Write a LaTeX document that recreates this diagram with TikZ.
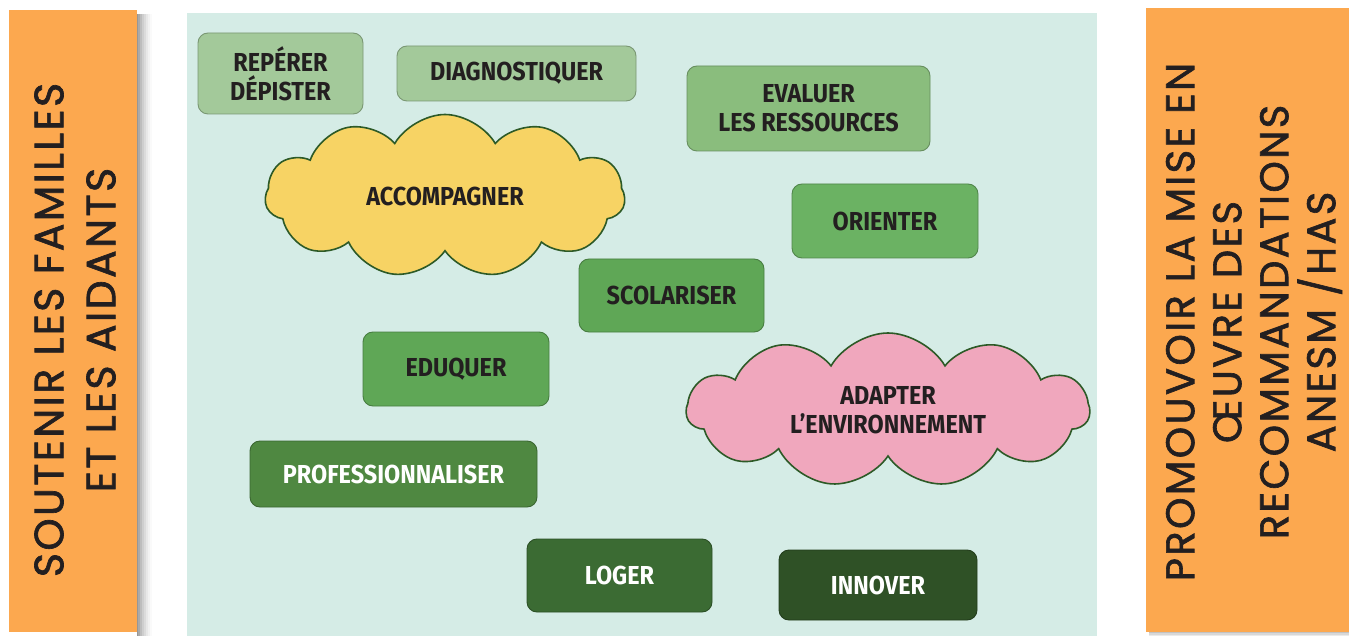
\documentclass[tikz,border=0pt]{standalone}
\usepackage{fontspec}
\setmainfont{Fira Sans}
\newfontfamily\boxfont[FakeStretch=0.9]{Fira Sans Bold}
\newfontfamily\sidefont[LetterSpace=6, FakeBold=1.6]{Poppins}
\usetikzlibrary{shapes.symbols,shadows}
\definecolor{barorange}{HTML}{FCA84F}
\definecolor{mint}{HTML}{D5ECE6}
\definecolor{txtdark}{HTML}{231F20}
\definecolor{cloudline}{HTML}{2D5A27}
\definecolor{gA}{HTML}{A3C99A}
\definecolor{gB}{HTML}{8ABD7D}
\definecolor{gC}{HTML}{6BB263}
\definecolor{gD}{HTML}{5FA756}
\definecolor{gE}{HTML}{4F8841}
\definecolor{gF}{HTML}{3B6B33}
\definecolor{gG}{HTML}{2F5126}
\definecolor{yel}{HTML}{F7D364}
\definecolor{pink}{HTML}{F0A7BD}
\tikzset{
  bar/.style={fill=barorange, draw=none},
  sidetext/.style={rotate=90, align=center, text=txtdark, font=\sidefont\fontsize{41}{52}\selectfont, inner sep=0pt},
  gbox/.style={draw=#1!75!black, line width=0.9pt, fill=#1, rounded corners=10pt, text=txtdark, align=center, font=\boxfont\fontsize{26}{29}\selectfont},
  wbox/.style={gbox=#1, text=white},
  cloudnode/.style={cloud, cloud puffs=11, cloud puff arc=120, aspect=2.5, draw=cloudline, line width=1.6pt, fill=#1, align=center, text=txtdark, font=\boxfont\fontsize{26}{29}\selectfont, inner sep=0pt},
}
\begin{document}
\begin{tikzpicture}[x=1pt,y=-1pt]
\useasboundingbox (0,0) rectangle (1349,636);
\fill[white] (0,0) rectangle (1349,636);
% side bars with shadows
\foreach \i/\o in {1/0.12,3/0.10,5/0.08,7/0.06,9/0.05,11/0.04,13/0.03,15/0.02}{
  \fill[black, opacity=\o] (137,14) rectangle (137+\i,636);
}
\node[bar, minimum width=128pt, minimum height=622pt, inner sep=0pt, anchor=north west] (lbar) at (9,10) {};
\foreach \i/\o in {1/0.10,3/0.07,5/0.05,7/0.03}{
  \fill[black, opacity=\o] (1149,632) rectangle (1360,632+\i);
}
\node[bar, minimum width=214pt, minimum height=624pt, inner sep=0pt, anchor=north west] (rbar) at (1146,8) {};
% main panel
\node[fill=mint, minimum width=910pt, minimum height=624pt, inner sep=0pt, anchor=north west] (panel) at (187,13) {};
% side texts
\node[sidetext] (ltext) at (75,330) {SOUTENIR LES FAMILLES\\ET LES AIDANTS};
\node[sidetext, font=\sidefont\fontsize{40}{47}\selectfont] (rtext) at (1254,322) {PROMOUVOIR LA MISE EN\\ŒUVRE DES\\RECOMMANDATIONS\\ANESM /HAS};
% boxes
\node[gbox=gA, minimum width=165pt, minimum height=81pt] (rep) at (280.5,73.5) {REPÉRER\\DÉPISTER};
\node[gbox=gA, minimum width=239pt, minimum height=55pt] (diag) at (516.5,73.5) {DIAGNOSTIQUER};
\node[gbox=gB, minimum width=243pt, minimum height=85pt] (eval) at (808.5,108.5) {EVALUER\\LES RESSOURCES};
\node[gbox=gC, minimum width=186pt, minimum height=74pt] (ori) at (885,221) {ORIENTER};
\node[gbox=gD, minimum width=185pt, minimum height=73pt] (sco) at (671.5,295.5) {SCOLARISER};
\node[gbox=gD, minimum width=186pt, minimum height=74pt] (edu) at (456,369) {EDUQUER};
\node[wbox=gE, minimum width=287pt, minimum height=66pt] (pro) at (393.5,474) {PROFESSIONNALISER};
\node[wbox=gF, minimum width=185pt, minimum height=73pt] (log) at (619.5,575.5) {LOGER};
\node[wbox=gG, minimum width=198pt, minimum height=70pt] (inn) at (878,585) {INNOVER};
% clouds
\node[cloudnode=yel, minimum width=360pt, minimum height=163pt] (acc) at (445,196) {ACCOMPAGNER};
\node[cloudnode=pink, minimum width=403pt, minimum height=154pt] (ada) at (888,410) {ADAPTER\\L’ENVIRONNEMENT};
\end{tikzpicture}
\end{document}
